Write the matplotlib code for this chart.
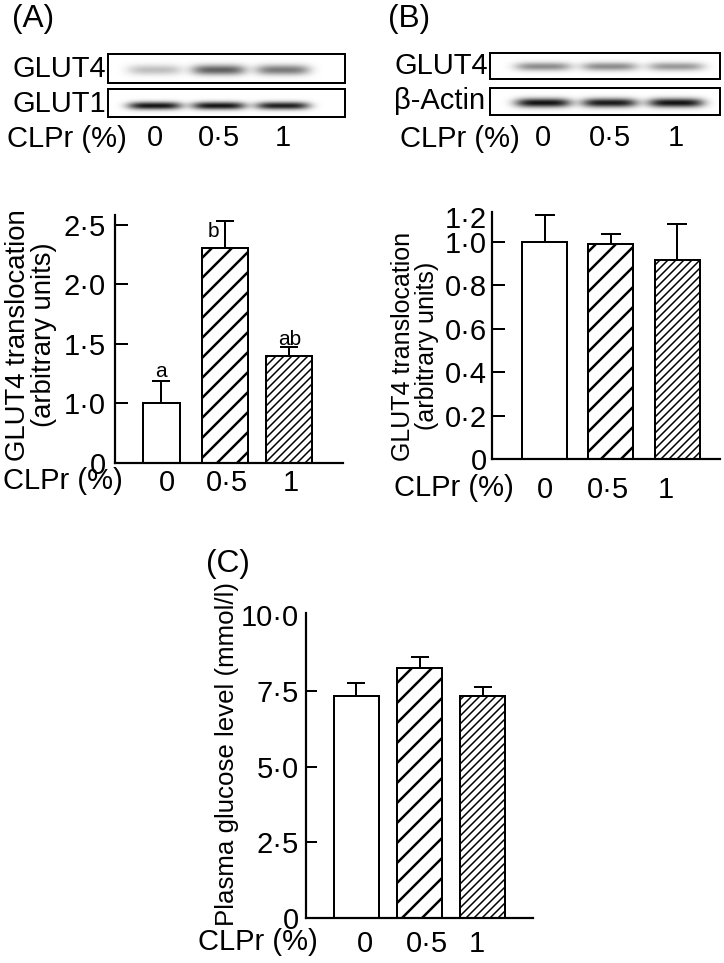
import numpy as np
import matplotlib.pyplot as plt

plt.rcParams['font.family'] = ['Liberation Sans', 'DejaVu Sans']

# group labels (CLPr %)
groups = ['0', '0·5', '1']

# (A) GLUT4 translocation, muscle
glut4_a = [1.0, 2.31, 1.40]
glut4_a_sem = [0.185, 0.22, 0.075]
glut4_a_letters = ['a', 'b', 'ab']

# (B) GLUT4 translocation
glut4_b = [1.0, 0.99, 0.915]
glut4_b_sem = [0.12, 0.045, 0.165]

# (C) plasma glucose (mmol/l)
glucose = [7.34, 8.26, 7.34]
glucose_sem = [0.43, 0.37, 0.30]

# western blot band darkness (0 = none, 1 = black) per lane
blot_a_glut4 = [0.25, 0.62, 0.52]
blot_a_glut1 = [0.92, 0.92, 0.88]
blot_b_glut4 = [0.45, 0.45, 0.40]
blot_b_actin = [0.93, 0.90, 0.93]

W, H = 724, 963
DPI = 120
fig = plt.figure(figsize=(W / DPI, H / DPI), dpi=DPI)


def pt(px):
    return px * 72 / DPI


def px_axes(x0, y0, x1, y1):
    return fig.add_axes([x0 / W, 1 - y1 / H, (x1 - x0) / W, (y1 - y0) / H])


def ftext(x, y, s, **kw):
    fig.text(x / W, 1 - y / H, s, **kw)


hatches = ['', '//', '/////']
hatch_lws = [1.0, 1.5, 0.9]


def bar_panel(ax, values, sems, widths, capsize, tick_pos=None):
    x = np.arange(len(values))
    for i in range(len(values)):
        plt.rcParams['hatch.linewidth'] = hatch_lws[i]
        bars = ax.bar(x[i], values[i], width=widths[i], color='white',
                      edgecolor='black', linewidth=pt(2), hatch=hatches[i], zorder=2)
        for b in bars:
            if hasattr(b, 'set_hatch_linewidth'):
                b.set_hatch_linewidth(hatch_lws[i])
    ax.errorbar(x, values, yerr=[np.zeros(len(values)), sems], fmt='none',
                ecolor='black', elinewidth=pt(2), capsize=capsize,
                capthick=pt(2), zorder=3)
    for s in ['top', 'right']:
        ax.spines[s].set_visible(False)
    for s in ['left', 'bottom']:
        ax.spines[s].set_linewidth(pt(2.2))
    ax.set_xticks(x if tick_pos is None else tick_pos)
    ax.set_xticklabels(groups)
    return x


def blot(ax, darkness, xlim, yc, sy, sx=0.42):
    xs = np.linspace(xlim[0], xlim[1], 400)
    ys = np.linspace(0, 1, 60)
    X, Y = np.meshgrid(xs, ys)
    img = np.zeros_like(X)
    for lane, d in enumerate(darkness):
        img += d * np.exp(-np.abs((X - lane) / sx) ** 4) * np.exp(-((Y - yc) / sy) ** 2)
    ax.imshow(1 - np.clip(img, 0, 1), cmap='gray', vmin=0, vmax=1,
              extent=[xlim[0], xlim[1], 1, 0], aspect='auto', interpolation='bilinear')
    ax.set_xlim(xlim)
    ax.set_ylim(1, 0)
    ax.set_yticks([])
    ax.set_xticks([])
    for s in ax.spines.values():
        s.set_linewidth(pt(2))


# ---------- blots (A) ----------
xl_a = (-0.73, 2.97)
ax = px_axes(108, 54, 345, 83)
blot(ax, blot_a_glut4, xl_a, 0.55, 0.18)
ax = px_axes(108, 89, 345, 117)
blot(ax, blot_a_glut1, xl_a, 0.6, 0.14)
ax.set_xticks(np.arange(3))
ax.set_xticklabels(groups, fontsize=17.5)
ax.tick_params(axis='x', length=0, pad=pt(7))
ftext(106, 69, 'GLUT4', ha='right', va='center', fontsize=17.5)
ftext(106, 104, 'GLUT1', ha='right', va='center', fontsize=17.5)
ftext(7, 139, 'CLPr (%)', ha='left', va='center', fontsize=17.5)

# ---------- blots (B) ----------
xl_b = (-0.80, 2.66)
ax = px_axes(490, 53, 720, 79)
blot(ax, blot_b_glut4, xl_b, 0.54, 0.16)
ax = px_axes(490, 88, 720, 115)
blot(ax, blot_b_actin, xl_b, 0.55, 0.17)
ax.set_xticks(np.arange(3))
ax.set_xticklabels(groups, fontsize=17.5)
ax.tick_params(axis='x', length=0, pad=pt(9))
ftext(394, 66, 'GLUT4', ha='left', va='center', fontsize=17.5)
ftext(394, 101, 'β-Actin', ha='left', va='center', fontsize=17.5)
ftext(400, 139, 'CLPr (%)', ha='left', va='center', fontsize=17.5)

# ---------- bar chart (A) ----------
ax = px_axes(115, 215, 343, 463)
x = bar_panel(ax, glut4_a, glut4_a_sem, [0.58, 0.72, 0.72], pt(9), [0.09, 1.03, 2.02])
ax.set_xlim(-0.72, 2.84)
ax.set_ylim(0.5, 2.584)
ax.set_yticks([0.5, 1.0, 1.5, 2.0, 2.5])
ax.set_yticklabels(['0', '1·0', '1·5', '2·0', '2·5'])
ax.tick_params(axis='y', direction='in', length=pt(13), width=pt(2), pad=pt(9), labelsize=17.5)
ax.tick_params(axis='x', length=0, pad=pt(6), labelsize=17.5)
tops = [v + s for v, s in zip(glut4_a, glut4_a_sem)]
ax.annotate(glut4_a_letters[0], (x[0], tops[0]), xytext=(0, pt(4)), textcoords='offset points',
            ha='center', va='baseline', fontsize=12.5)
ax.annotate(glut4_a_letters[1], (x[1], tops[1]), xytext=(pt(-12), pt(-1)), textcoords='offset points',
            ha='center', va='top', fontsize=12.5)
ax.annotate(glut4_a_letters[2], (x[2], tops[2]), xytext=(0, pt(2)), textcoords='offset points',
            ha='center', va='baseline', fontsize=12.5)
ftext(31, 335, 'GLUT4 translocation\n(arbitrary units)', rotation=90, ha='center', va='center',
      fontsize=16.5, linespacing=1.0)
ftext(3, 481, 'CLPr (%)', ha='left', va='center', fontsize=17.5)

# ---------- bar chart (B) ----------
ax = px_axes(492, 212, 720, 459)
bar_panel(ax, glut4_b, glut4_b_sem, [0.68, 0.68, 0.68], pt(10), [0.0, 0.95, 1.83])
ax.set_xlim(-0.80, 2.65)
ax.set_ylim(0, 1.136)
ax.set_yticks([0, 0.2, 0.4, 0.6, 0.8, 1.0, 1.113])
ax.set_yticklabels(['0', '0·2', '0·4', '0·6', '0·8', '1·0', '1·2'])
ax.tick_params(axis='y', direction='in', length=pt(13), width=pt(2), pad=pt(5), labelsize=17.5)
ax.tick_params(axis='x', length=0, pad=pt(17), labelsize=17.5)
ax.yaxis.get_major_ticks()[-1].tick1line.set_visible(False)
ftext(415, 346, 'GLUT4 translocation\n(arbitrary units)', rotation=90, ha='center', va='center',
      fontsize=15, linespacing=1.0)
ftext(394, 488, 'CLPr (%)', ha='left', va='center', fontsize=17.5)

# ---------- bar chart (C) ----------
ax = px_axes(306, 613, 533, 918)
bar_panel(ax, glucose, glucose_sem, [0.71, 0.71, 0.71], pt(9), [0.13, 1.12, 1.91])
ax.set_xlim(-0.80, 2.80)
ax.set_ylim(0, 10.08)
ax.set_yticks([0, 2.5, 5.0, 7.5, 10.0])
ax.set_yticklabels(['0', '2·5', '5·0', '7·5', '10·0'])
ax.tick_params(axis='y', direction='in', length=pt(11), width=pt(2), pad=pt(7), labelsize=17.5)
ax.tick_params(axis='x', length=0, pad=pt(12), labelsize=17.5)
ax.yaxis.get_major_ticks()[-1].tick1line.set_visible(False)
ftext(227, 754, 'Plasma glucose level (mmol/l)', rotation=90, ha='center', va='center', fontsize=15.5)
ftext(198, 942, 'CLPr (%)', ha='left', va='center', fontsize=17.5)

# panel letters
ftext(33, 19, '(A)', ha='center', va='center', fontsize=19)
ftext(409, 19, '(B)', ha='center', va='center', fontsize=19)
ftext(228, 564, '(C)', ha='center', va='center', fontsize=19)

fig.savefig('out.png', dpi=DPI)
